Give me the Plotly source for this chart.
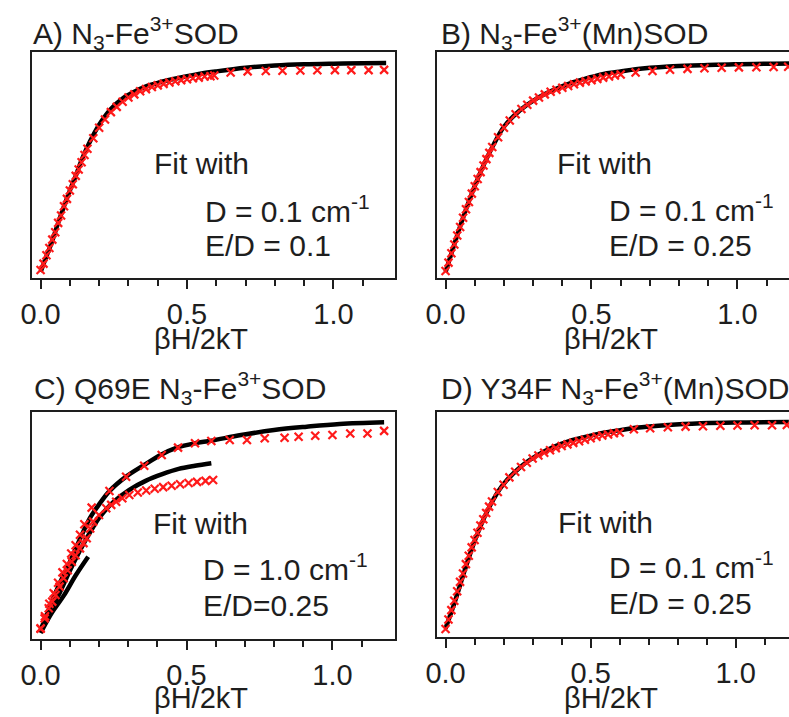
import plotly.graph_objects as go

# ---------------- data ----------------
# Panel A
A_fit_x = [0, 0.02, 0.04, 0.06, 0.08, 0.10, 0.12, 0.14, 0.16, 0.18, 0.20, 0.24, 0.28, 0.32, 0.36, 0.40, 0.45, 0.50, 0.55, 0.60, 0.70, 0.80, 0.90, 1.00, 1.10, 1.18]
A_fit_y = [0, 0.075, 0.15, 0.235, 0.315, 0.39, 0.46, 0.535, 0.60, 0.655, 0.705, 0.78, 0.83, 0.862, 0.888, 0.905, 0.922, 0.937, 0.95, 0.96, 0.977, 0.988, 0.994, 0.997, 0.999, 1.0]
A_obs_x = [0.00, 0.01, 0.02, 0.03, 0.04, 0.05, 0.06, 0.07, 0.08, 0.09, 0.10, 0.11, 0.12, 0.13, 0.14, 0.15, 0.16, 0.18, 0.20, 0.22, 0.24, 0.26, 0.28, 0.30, 0.32, 0.34, 0.36, 0.38, 0.40, 0.42, 0.44, 0.46, 0.48, 0.50, 0.52, 0.54, 0.56, 0.58, 0.593, 0.649, 0.707, 0.769, 0.826, 0.887, 0.945, 1.005, 1.061, 1.12, 1.173]
A_obs_y = [0.01, 0.04, 0.08, 0.115, 0.155, 0.19, 0.235, 0.27, 0.315, 0.35, 0.39, 0.42, 0.46, 0.49, 0.525, 0.56, 0.59, 0.64, 0.69, 0.73, 0.765, 0.79, 0.815, 0.835, 0.85, 0.865, 0.875, 0.885, 0.893, 0.90, 0.907, 0.913, 0.918, 0.922, 0.927, 0.93, 0.935, 0.937, 0.94, 0.955, 0.96, 0.962, 0.963, 0.964, 0.965, 0.966, 0.966, 0.966, 0.967]

# Panel B
B_fit_x = [0, 0.031, 0.065, 0.099, 0.133, 0.167, 0.20, 0.256, 0.313, 0.369, 0.426, 0.482, 0.538, 0.595, 0.651, 0.764, 0.876, 0.989, 1.177]
B_fit_y = [0, 0.137, 0.28, 0.408, 0.52, 0.616, 0.695, 0.775, 0.831, 0.871, 0.903, 0.926, 0.947, 0.958, 0.97, 0.983, 0.989, 0.994, 0.998]
B_obs_x = [0.00, 0.01, 0.02, 0.03, 0.04, 0.05, 0.06, 0.07, 0.08, 0.09, 0.10, 0.11, 0.12, 0.13, 0.14, 0.15, 0.16, 0.18, 0.20, 0.22, 0.24, 0.26, 0.28, 0.30, 0.32, 0.34, 0.36, 0.38, 0.40, 0.42, 0.44, 0.46, 0.48, 0.50, 0.52, 0.54, 0.56, 0.58, 0.60, 0.651, 0.709, 0.769, 0.829, 0.887, 0.946, 1.005, 1.065, 1.124, 1.174]
B_obs_y = [0.005, 0.045, 0.09, 0.132, 0.175, 0.215, 0.26, 0.30, 0.335, 0.375, 0.41, 0.445, 0.478, 0.51, 0.54, 0.57, 0.598, 0.645, 0.69, 0.725, 0.755, 0.78, 0.80, 0.82, 0.835, 0.85, 0.862, 0.872, 0.882, 0.89, 0.898, 0.906, 0.912, 0.918, 0.924, 0.93, 0.935, 0.94, 0.945, 0.955, 0.962, 0.968, 0.972, 0.975, 0.977, 0.979, 0.98, 0.981, 0.982]

# Panel C
C_fit1_x = [0, 0.034, 0.068, 0.101, 0.135, 0.169, 0.203, 0.236, 0.293, 0.355, 0.411, 0.467, 0.529, 0.585, 0.687, 0.80, 0.912, 1.025, 1.177]
C_fit1_y = [0.014, 0.134, 0.245, 0.341, 0.45, 0.55, 0.62, 0.679, 0.748, 0.804, 0.852, 0.887, 0.908, 0.92, 0.947, 0.971, 0.987, 1.0, 1.008]
C_fit2_x = [0, 0.034, 0.068, 0.101, 0.135, 0.169, 0.203, 0.248, 0.304, 0.36, 0.417, 0.473, 0.529, 0.585]
C_fit2_y = [0.01, 0.10, 0.20, 0.30, 0.395, 0.48, 0.555, 0.625, 0.685, 0.728, 0.76, 0.785, 0.80, 0.812]
C_fit3_x = [0.0, 0.04, 0.08, 0.12, 0.163]
C_fit3_y = [0.0, 0.10, 0.18, 0.275, 0.365]
C_obs1_x = [0.0, 0.015, 0.03, 0.045, 0.06, 0.075, 0.09, 0.105, 0.12, 0.135, 0.15, 0.175, 0.236, 0.293, 0.355, 0.415, 0.471, 0.529, 0.585, 0.648, 0.707, 0.768, 0.836, 0.884, 0.941, 1.0, 1.061, 1.12, 1.177]
C_obs1_y = [0.02, 0.08, 0.14, 0.19, 0.24, 0.29, 0.33, 0.38, 0.42, 0.47, 0.52, 0.60, 0.679, 0.748, 0.80, 0.852, 0.887, 0.908, 0.919, 0.923, 0.923, 0.932, 0.934, 0.939, 0.944, 0.947, 0.955, 0.955, 0.967]
C_obs2_x = [0.0, 0.014, 0.028, 0.04, 0.051, 0.065, 0.079, 0.093, 0.107, 0.12, 0.135, 0.147, 0.158, 0.17, 0.18, 0.20, 0.225, 0.242, 0.259, 0.28, 0.304, 0.333, 0.362, 0.391, 0.42, 0.449, 0.478, 0.507, 0.536, 0.565, 0.591]
C_obs2_y = [0.022, 0.07, 0.118, 0.15, 0.182, 0.222, 0.262, 0.30, 0.341, 0.372, 0.405, 0.43, 0.453, 0.50, 0.533, 0.565, 0.597, 0.613, 0.628, 0.645, 0.66, 0.672, 0.682, 0.69, 0.698, 0.705, 0.712, 0.718, 0.723, 0.728, 0.732]

# Panel D
D_fit_x = [0, 0.032, 0.066, 0.10, 0.134, 0.167, 0.201, 0.258, 0.315, 0.371, 0.428, 0.485, 0.541, 0.598, 0.654, 0.768, 0.881, 0.994, 1.183]
D_fit_y = [0.012, 0.14, 0.29, 0.43, 0.545, 0.635, 0.705, 0.785, 0.84, 0.88, 0.91, 0.93, 0.948, 0.96, 0.972, 0.986, 0.994, 0.998, 1.0]
D_obs_x = [0.00, 0.01, 0.02, 0.03, 0.04, 0.05, 0.06, 0.07, 0.08, 0.09, 0.10, 0.11, 0.12, 0.13, 0.14, 0.15, 0.16, 0.18, 0.20, 0.22, 0.24, 0.26, 0.28, 0.30, 0.32, 0.34, 0.36, 0.38, 0.40, 0.42, 0.44, 0.46, 0.48, 0.50, 0.52, 0.54, 0.56, 0.58, 0.60, 0.649, 0.705, 0.766, 0.827, 0.887, 0.947, 1.006, 1.065, 1.125, 1.176]
D_obs_y = [0.01, 0.055, 0.10, 0.145, 0.19, 0.235, 0.275, 0.32, 0.36, 0.40, 0.435, 0.47, 0.505, 0.535, 0.565, 0.595, 0.62, 0.665, 0.70, 0.735, 0.762, 0.785, 0.805, 0.825, 0.84, 0.853, 0.865, 0.875, 0.885, 0.893, 0.90, 0.908, 0.915, 0.922, 0.929, 0.935, 0.94, 0.946, 0.95, 0.965, 0.97, 0.975, 0.978, 0.98, 0.982, 0.983, 0.984, 0.984, 0.986]

panel_titles = ["A) N<sub>3</sub>-Fe<sup>3+</sup>SOD",
                "B) N<sub>3</sub>-Fe<sup>3+</sup>(Mn)SOD",
                "C) Q69E N<sub>3</sub>-Fe<sup>3+</sup>SOD",
                "D) Y34F N<sub>3</sub>-Fe<sup>3+</sup>(Mn)SOD"]
fit_D_text = ["D = 0.1 cm<sup>-1</sup>", "D = 0.1 cm<sup>-1</sup>", "D = 1.0 cm<sup>-1</sup>", "D = 0.1 cm<sup>-1</sup>"]
fit_ED_text = ["E/D = 0.1", "E/D = 0.25", "E/D=0.25", "E/D = 0.25"]
x_title = "\u03b2H/2kT"
minor_ticks = [0.1, 0.2, 0.3, 0.4, 0.6, 0.7, 0.8, 0.9, 1.1]

# ---------------- figure ----------------
W, H = 789, 717
FONT = "Liberation Sans, Arial, sans-serif"
INK = "#1e1e1e"
RED = "#ff1a1a"

fig = go.Figure()

def px2x(p):
    return p / W

def px2y(p):
    return 1 - p / H

def add_fit(xs, ys, ax):
    fig.add_trace(go.Scatter(x=xs, y=ys, mode="lines", line=dict(color="black", width=4.5, shape="spline"),
                             xaxis="x" + ax, yaxis="y" + ax, showlegend=False, hoverinfo="skip"))

def add_obs(xs, ys, ax):
    fig.add_trace(go.Scatter(x=xs, y=ys, mode="markers",
                             marker=dict(symbol="x-thin", size=8, color=RED, line=dict(color=RED, width=2.2)),
                             xaxis="x" + ax, yaxis="y" + ax, showlegend=False, hoverinfo="skip"))

add_fit(A_fit_x, A_fit_y, "")
add_obs(A_obs_x, A_obs_y, "")
add_fit(B_fit_x, B_fit_y, "2")
add_obs(B_obs_x, B_obs_y, "2")
add_fit(C_fit1_x, C_fit1_y, "3")
add_fit(C_fit2_x, C_fit2_y, "3")
add_fit(C_fit3_x, C_fit3_y, "3")
add_obs(C_obs1_x, C_obs1_y, "3")
add_obs(C_obs2_x, C_obs2_y, "3")
add_fit(D_fit_x, D_fit_y, "4")
add_obs(D_obs_x, D_obs_y, "4")

# panel boxes in pixels: (left, top, bottom, x at zero px, px per unit, right edge px)
panels = [
    dict(l=21, t=52, b=278, x0=30, s=297, r=389, full=True),
    dict(l=432, t=52, b=278, x0=440.7, s=296, r=789, full=False),
    dict(l=21, t=411.7, b=639, x0=30, s=296, r=389, full=True),
    dict(l=431.7, t=412, b=637, x0=440.7, s=294.3, r=789, full=False),
]
Y0_OFF = 6      # px from bottom of box to y = 0
Y_SCALE = 209   # px per unit

for i, p in enumerate(panels):
    suf = "" if i == 0 else str(i + 1)
    xr = [(p["l"] - p["x0"]) / p["s"], (p["r"] - p["x0"]) / p["s"]]
    box_h = p["b"] - p["t"]
    yr = [-Y0_OFF / Y_SCALE, (box_h - Y0_OFF) / Y_SCALE]
    fig.layout["xaxis" + suf] = dict(
        domain=[px2x(p["l"]), min(1.0, px2x(p["r"]))], range=xr, anchor="y" + suf,
        showline=True, linecolor=INK, linewidth=2, mirror=True,
        ticks="outside", ticklen=9, tickwidth=2, tickcolor=INK,
        tick0=0, dtick=0.5, tickformat=".1f",
        tickfont=dict(size=29, color=INK, family=FONT), ticklabelstandoff=0,
        minor=dict(tickmode="array", tickvals=minor_ticks, ticks="outside", ticklen=6, tickwidth=2, tickcolor=INK),
        showgrid=False, zeroline=False, fixedrange=True)
    fig.layout["yaxis" + suf] = dict(
        domain=[px2y(p["b"]), px2y(p["t"])], range=yr, anchor="x" + suf,
        showline=True, linecolor=INK, linewidth=2, mirror=p["full"],
        ticks="", showticklabels=False, showgrid=False, zeroline=False, fixedrange=True)

ann = []
def text(s, x, y, size=30, xanchor="left"):
    ann.append(dict(text=s, x=px2x(x), y=px2y(y), xref="paper", yref="paper", xanchor=xanchor, yanchor="middle",
                    showarrow=False, font=dict(size=size, color=INK, family=FONT)))

# panel titles
text(panel_titles[0], 20, 33)
text(panel_titles[1], 434, 33)
text(panel_titles[2], 21, 388)
text(panel_titles[3], 434, 388)

# fit annotations
fit_pos = [(143, 163, 195, 212, 245), (552, 163, 604, 211, 245), (142, 523, 193, 570, 605), (553, 522, 604, 568, 603)]
for i, (fx, fy, dx, dy, ey) in enumerate(fit_pos):
    text("Fit with", fx, fy)
    text(fit_D_text[i], dx, dy - 3)
    text(fit_ED_text[i], dx, ey)

# x axis titles
text(x_title, 193, 339, size=29, xanchor="center")
text(x_title, 608, 339, size=29, xanchor="center")
text(x_title, 193, 698, size=29, xanchor="center")
text(x_title, 608, 698, size=29, xanchor="center")

fig.update_layout(width=W, height=H, margin=dict(l=0, r=0, t=0, b=0),
                  paper_bgcolor="white", plot_bgcolor="white", annotations=ann,
                  font=dict(family=FONT, color=INK))

fig.write_html("out.html")
